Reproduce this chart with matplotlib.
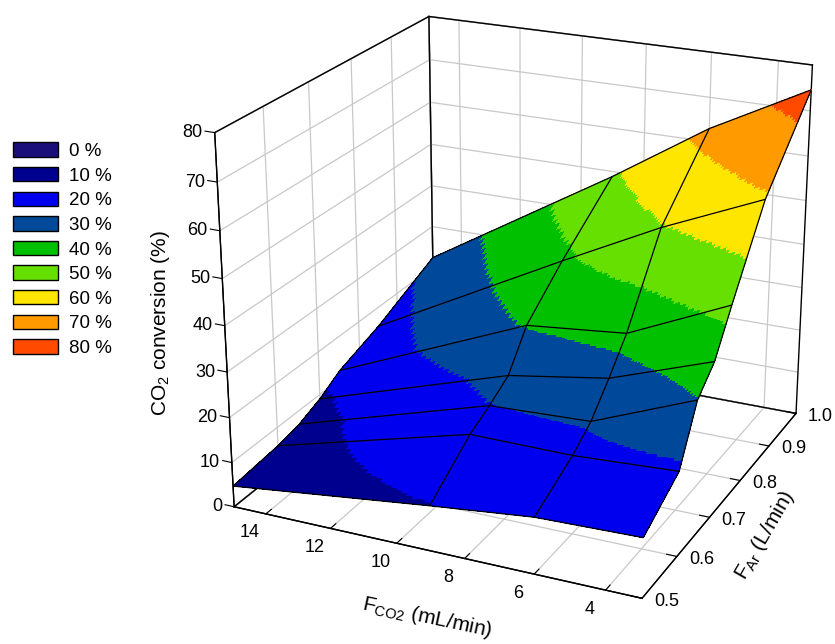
import numpy as np
import matplotlib
matplotlib.use('Agg')
import matplotlib.pyplot as plt
from matplotlib.colors import ListedColormap, BoundaryNorm
from matplotlib.patches import Patch
from mpl_toolkits.mplot3d import proj3d

plt.rcParams['font.family'] = ['Liberation Sans', 'DejaVu Sans']
plt.rcParams['grid.color'] = '#c8c8c8'
plt.rcParams['grid.linewidth'] = 0.9

# measured grid: columns = F_CO2 (mL/min), rows = F_Ar (L/min)
f_co2 = [15, 9, 6, 3]
f_ar = [0.5, 0.6, 0.65, 0.7, 0.75, 0.85, 1.0]
conv = [
    [4.7, 9.9, 12.3, 12.9],
    [5.8, 17.4, 17.3, 18.5],
    [6.9, 19.9, 20.8, 29.8],
    [9.0, 22.9, 26.5, 34.3],
    [12.0, 30.6, 32.8, 42.9],
    [15.5, 38.5, 49.6, 59.2],
    [22.3, 48.8, 63.0, 74.6],
]

levels = [0, 10, 20, 30, 40, 50, 60, 70, 80]
level_labels = ['0 %', '10 %', '20 %', '30 %', '40 %', '50 %', '60 %', '70 %', '80 %']
level_colors = ['#1a0f7a', '#00008f', '#0000ee', '#00489a', '#00c000',
                '#66e000', '#ffe600', '#ff9a00', '#ff4a00']

x_lim = (15, 3)
y_lim = (0.5, 1.0)
z_lim = (0, 80)
x_ticks = [4, 6, 8, 10, 12, 14]
y_ticks = [0.5, 0.6, 0.7, 0.8, 0.9, 1.0]
z_ticks = [0, 10, 20, 30, 40, 50, 60, 70, 80]


def subdivide(a, n=30):
    # bilinear subdivision of each cell, only used to draw the colour bands
    a = np.asarray(a, float)
    r = np.linspace(0, a.shape[0] - 1, (a.shape[0] - 1) * n + 1)
    c = np.linspace(0, a.shape[1] - 1, (a.shape[1] - 1) * n + 1)
    tmp = np.array([np.interp(c, np.arange(a.shape[1]), row) for row in a])
    return np.array([np.interp(r, np.arange(a.shape[0]), col) for col in tmp.T]).T


X, Y = np.meshgrid(f_co2, f_ar)
Z = np.array(conv)
Xf, Yf, Zf = subdivide(X), subdivide(Y), subdivide(Z)

# colour of a band is the one of its upper level
cmap = ListedColormap(level_colors[1:])
norm = BoundaryNorm(levels, cmap.N)

W, H = 835, 644
fig = plt.figure(figsize=(W / 100, H / 100), dpi=100)
ax = fig.add_axes([0.1853, 0.0466, 0.87, 1.0], projection='3d')
ax.computed_zorder = False

# black frame of the back walls and floor (drawn under the surface)
x0, x1 = x_lim
y0, y1 = y_lim
z0, z1 = z_lim
frame = [
    ([x0, x0], [y0, y1], [z1, z1]),
    ([x0, x0], [y0, y0], [z0, z1]),
    ([x0, x0], [y1, y1], [z0, z1]),
    ([x0, x0], [y0, y1], [z0, z0]),
    ([x0, x1], [y1, y1], [z1, z1]),
    ([x1, x1], [y1, y1], [z0, z1]),
    ([x0, x1], [y1, y1], [z0, z0]),
    ([x0, x1], [y0, y0], [z0, z0]),
    ([x1, x1], [y0, y1], [z0, z0]),
]
for fx, fy, fz in frame:
    ax.plot(fx, fy, fz, color='black', linewidth=1.0, zorder=0.5)

ax.plot_surface(Xf, Yf, Zf, cmap=cmap, norm=norm, rstride=1, cstride=1,
                linewidth=0, antialiased=False, shade=False, zorder=1)
ax.plot_wireframe(X, Y, Z, color='black', linewidth=0.9, rstride=1, cstride=1, zorder=2)

ax.set_xlim(*x_lim)
ax.set_ylim(*y_lim)
ax.set_zlim(*z_lim)
ax.set_xticks(x_ticks)
ax.set_yticks(y_ticks)
ax.set_zticks(z_ticks)
ax.set_xticklabels([])
ax.set_yticklabels([])
ax.set_zticklabels([])

for axis in (ax.xaxis, ax.yaxis, ax.zaxis):
    axis.pane.fill = False
    axis.pane.set_edgecolor('black')
    axis.line.set_color('black')
    axis._axinfo['tick']['inward_factor'] = 0.0
    axis._axinfo['tick']['outward_factor'] = 0.3
ax.zaxis._axinfo['juggled'] = (1, 2, 0)

ax.set_box_aspect((1.118, 1.128, 1.0), zoom=1.1)
ax.set_proj_type('persp', focal_length=0.68)
ax.view_init(elev=22, azim=-65.3)

# tick labels placed beside the projected tick positions, SigmaPlot style
fig.canvas.draw()
M = ax.get_proj()


def to_fig(x, y, z, dx, dy):
    xs, ys, _ = proj3d.proj_transform(x, y, z, M)
    px, py = ax.transData.transform((xs, ys))
    return (px + dx) / W, (py - dy) / H


fs = 13
for v in z_ticks:
    fx, fy = to_fig(x0, y0, v, -12, 0)
    fig.text(fx, fy, '%d' % v, ha='right', va='center', fontsize=fs)
for v in x_ticks:
    fx, fy = to_fig(v, y0, z0, -16, 19)
    fig.text(fx, fy, '%d' % v, ha='center', va='center', fontsize=fs)
for v in y_ticks:
    fx, fy = to_fig(x1, v, z0, 12, 3)
    fig.text(fx, fy, '%.1f' % v, ha='left', va='center', fontsize=fs)

fig.text(161 / W, 1 - 323 / H, r'CO$_{\mathregular{2}}$ conversion (%)', fontsize=15,
         rotation=90, ha='center', va='center')
fig.text(427 / W, 1 - 618 / H, r'F$_{\mathregular{CO2}}$ (mL/min)', fontsize=15,
         rotation=-12, ha='center', va='center', rotation_mode='anchor')
fig.text(765 / W, 1 - 535 / H, r'F$_{\mathregular{Ar}}$ (L/min)', fontsize=15,
         rotation=60, ha='center', va='center', rotation_mode='anchor')

handles = [Patch(facecolor=c, edgecolor='black', linewidth=1.0) for c in level_colors]
fig.legend(handles, level_labels, loc='upper left', bbox_to_anchor=(0.0156, 0.779),
           frameon=False, fontsize=13.5, handlelength=2.4, handleheight=0.8,
           labelspacing=0.37, handletextpad=0.6, borderpad=0, borderaxespad=0)

fig.savefig('out.png', dpi=100)
